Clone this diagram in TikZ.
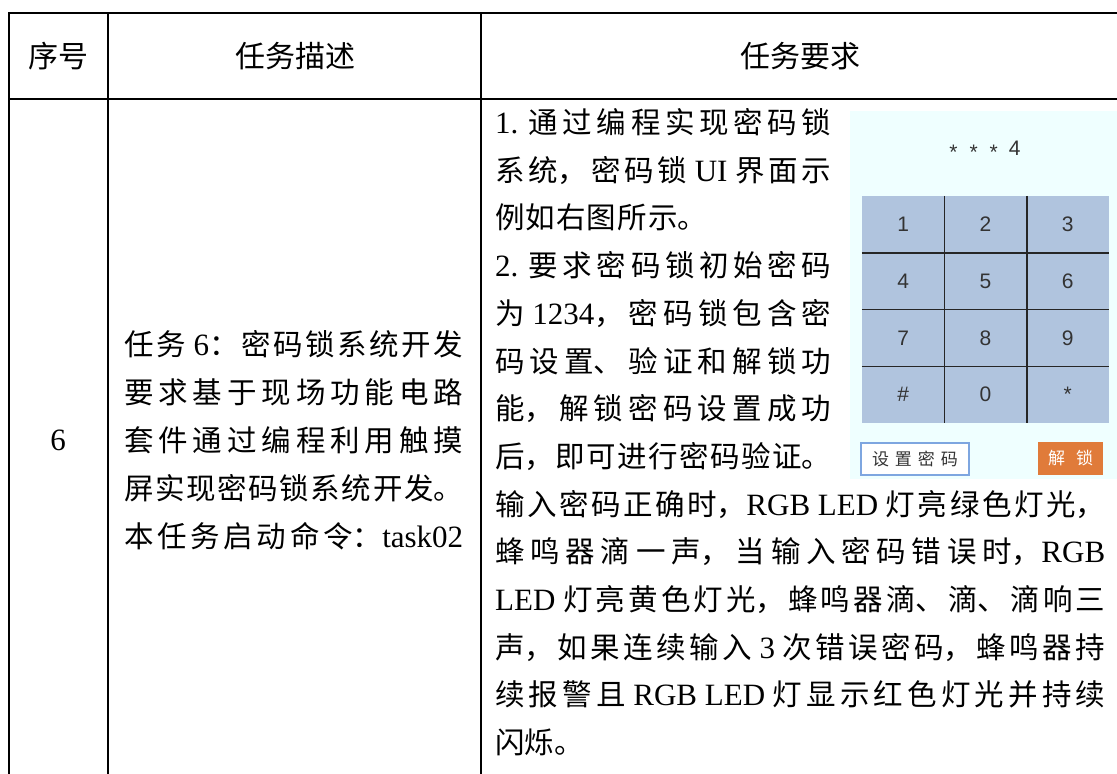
\documentclass[tikz,border=0pt]{standalone}
\usepackage{fontspec}
\setmainfont{Liberation Serif}
\newfontfamily\cjk{Noto Sans CJK SC}[Scale=0.952]
\newfontfamily\uisans{Liberation Sans}
\newfontfamily\uicjk{Noto Sans CJK SC}
\XeTeXlinebreaklocale "zh"
\XeTeXlinebreakskip=0pt plus 1fil
\tolerance=10000
\newcommand\zh[1]{{\cjk #1}}
\definecolor{panelbg}{HTML}{EFFFFF}
\definecolor{keyblue}{HTML}{B0C4DE}
\definecolor{keytext}{HTML}{333333}
\definecolor{btnedge}{HTML}{7EA6E0}
\definecolor{btnorange}{HTML}{E07B3A}

\begin{document}
\begin{tikzpicture}[x=1pt, y=-1pt,
    rule/.style={line width=2pt, line cap=rect},
    head/.style={inner sep=0pt, font=\uicjk\fontsize{30}{36}\selectfont},
    plain/.style={anchor=base west, inner sep=0pt, font=\fontsize{31}{48}\selectfont},
    ln/.style={plain, align=justify,
      execute at begin node={\parfillskip=0pt\parindent=0pt}},
    narrow/.style={ln, text width=336pt},
    wide/.style={ln, text width=610pt},
    key/.style={fill=keyblue, minimum width=82.33pt, minimum height=56.75pt,
      inner sep=0pt, text=keytext, font=\uisans\fontsize{21}{21}\selectfont},
    grid/.style={line width=1.4pt, draw=black!85}]
    \useasboundingbox (0,0) rectangle (1117,774);
    \clip (0,0) rectangle (1117,774);

    % Tabelle
    \draw[rule] (8.5,13) -- (1119,13);
    \draw[rule] (8.5,99) -- (1119,99);
    \draw[rule] (8.5,13) -- (8.5,782);
    \draw[rule] (108,13) -- (108,782);
    \draw[rule] (481,13) -- (481,782);
    \draw[rule] (1119,13) -- (1119,782);

    % Kopfzeile
    \node[head] (h1) at (58,56) {序号};
    \node[head] (h2) at (295,56) {任务描述};
    \node[head] (h3) at (800,56) {任务要求};

    % Nummer
    \node[inner sep=0pt, font=\fontsize{31}{36}\selectfont] (nr) at (58,440) {6};

    % Beschreibung
    \node[ln, text width=339pt] (d1) at (124,355) {\zh{任务} 6\zh{：密码锁系统开发}};
    \node[ln, text width=339pt] (d2) at (124,403) {\zh{要求基于现场功能电路}};
    \node[ln, text width=339pt] (d3) at (124,451) {\zh{套件通过编程利用触摸}};
    \node[ln, text width=339pt] (d4) at (124,499) {\zh{屏实现密码锁系统开发。}};
    \node[ln, text width=339pt] (d5) at (124,547) {\zh{本任务启动命令：}task02};

    % Anforderungen
    \node[narrow] (r1) at (495,133.5) {1. \zh{通过编程实现密码锁}};
    \node[narrow] (r2) at (495,181.2) {\zh{系统，密码锁} UI \zh{界面示}};
    \node[ln, text width=212pt] (r3) at (495,228.9) {\zh{例如右图所示。}};
    \node[narrow] (r4) at (495,276.6) {2. \zh{要求密码锁初始密码}};
    \node[narrow] (r5) at (495,324.3) {\zh{为} 1234\zh{，密码锁包含密}};
    \node[narrow] (r6) at (495,372.0) {\zh{码设置、验证和解锁功}};
    \node[narrow] (r7) at (495,419.7) {\zh{能，解锁密码设置成功}};
    \node[narrow] (r8) at (495,467.4) {\zh{后，即可进行密码验证。}};
    \node[wide] (r9) at (495,515.1) {\zh{输入密码正确时，}RGB LED \zh{灯亮绿色灯光，}};
    \node[wide] (r10) at (495,562.8) {\zh{蜂鸣器滴一声，当输入密码错误时，}RGB};
    \node[wide] (r11) at (495,610.5) {LED \zh{灯亮黄色灯光，蜂鸣器滴、滴、滴响三}};
    \node[wide] (r12) at (495,658.2) {\zh{声，如果连续输入} 3 \zh{次错误密码，蜂鸣器持}};
    \node[wide] (r13) at (495,705.9) {\zh{续报警且} RGB LED \zh{灯显示红色灯光并持续}};
    \node[plain] (r14) at (495,753.6) {\zh{闪烁。}};

    % Oberflaeche Passwortschloss
    \fill[panelbg] (850,111) rectangle (1120,479);
    \node[inner sep=0pt, text=keytext, font=\uisans\fontsize{21}{21}\selectfont] (disp) at (985,150)
      {\raisebox{-0.2em}{*}\hspace{12pt}\raisebox{-0.2em}{*}\hspace{12pt}\raisebox{-0.2em}{*}\hspace{11pt}4};

    \node[key] (k1) at (903.2,224.4) {1};
    \node[key] (k2) at (985.5,224.4) {2};
    \node[key] (k3) at (1067.8,224.4) {3};
    \node[key] (k4) at (903.2,281.1) {4};
    \node[key] (k5) at (985.5,281.1) {5};
    \node[key] (k6) at (1067.8,281.1) {6};
    \node[key] (k7) at (903.2,337.9) {7};
    \node[key] (k8) at (985.5,337.9) {8};
    \node[key] (k9) at (1067.8,337.9) {9};
    \node[key] (kh) at (903.2,394.6) {\#};
    \node[key] (k0) at (985.5,394.6) {0};
    \node[key] (ks) at (1067.8,394.6) {\raisebox{-0.2em}{*}};

    \draw[grid] (k1.north east) -- (kh.south east);
    \draw[grid] (k2.north east) -- (k0.south east);
    \draw[grid] (k1.south west) -- (k3.south east);
    \draw[grid] (k4.south west) -- (k6.south east);
    \draw[grid] (k7.south west) -- (k9.south east);

    % Knoepfe
    \node[draw=btnedge, line width=1.3pt, fill=white, minimum width=108pt, minimum height=32pt,
      inner sep=0pt, text=keytext, font=\uicjk\fontsize{17}{17}\selectfont] (setpw) at (915,459)
      {设\hspace{6pt}置\hspace{6pt}密\hspace{6pt}码};
    \node[fill=btnorange, minimum width=65pt, minimum height=33pt, inner sep=0pt,
      text=white, font=\uicjk\fontsize{17}{17}\selectfont] (unlock) at (1070.5,458.5)
      {解\hspace{11pt}锁};
\end{tikzpicture}
\end{document}
